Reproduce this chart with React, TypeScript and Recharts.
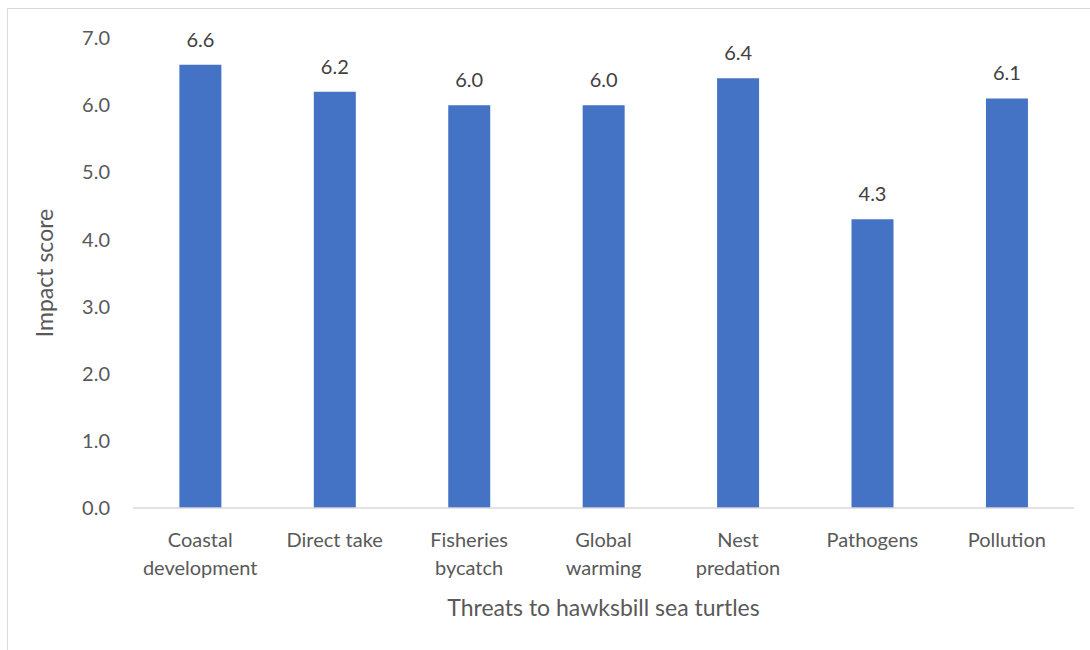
import { Bar, BarChart, LabelList, XAxis, YAxis } from "recharts";

const categories = [
  "Coastal\ndevelopment",
  "Direct take",
  "Fisheries\nbycatch",
  "Global\nwarming",
  "Nest\npredation",
  "Pathogens",
  "Pollution",
];
const impactScores = [6.6, 6.2, 6.0, 6.0, 6.4, 4.3, 6.1];
const yTicks = [0, 1, 2, 3, 4, 5, 6, 7];

const data = categories.map((name, i) => ({ name, score: impactScores[i] }));

const FONT = "Lato, 'Open Sans', sans-serif";
const fmt = (v: number) => Number(v).toFixed(1);

function CategoryTick(props: any) {
  const { x, y, payload } = props;
  const lines = String(payload.value).split("\n");
  return (
    <text x={x} y={y + 31} textAnchor="middle" fill="#595959" fontSize={20} fontFamily={FONT}>
      {lines.map((line, i) => (
        <tspan key={i} x={x} dy={i === 0 ? 0 : 28}>
          {line}
        </tspan>
      ))}
    </text>
  );
}

export default function App() {
  return (
    <div style={{ position: "absolute", left: 0, top: 0, width: 1090, height: 650, background: "#fff" }}>
      <div
        style={{
          position: "absolute",
          left: 7,
          top: 8,
          width: 1083,
          height: 642,
          borderTop: "1px solid #d9d9d9",
          borderLeft: "1px solid #d9d9d9",
          boxSizing: "border-box",
        }}
      />
      <BarChart
        width={1090}
        height={650}
        data={data}
        margin={{ top: 38, right: 16, bottom: 0, left: 20 }}
        barCategoryGap="34.5%"
        style={{ position: "absolute", left: 0, top: 0 }}
      >
        <XAxis
          dataKey="name"
          interval={0}
          tickLine={false}
          axisLine={{ stroke: "#d9d9d9", strokeWidth: 1.5 }}
          tick={<CategoryTick />}
          height={142}
          label={{
            value: "Threats to hawksbill sea turtles",
            position: "insideBottom",
            offset: 34,
            fill: "#595959",
            fontSize: 23,
            fontFamily: FONT,
          }}
        />
        <YAxis
          width={113}
          domain={[0, 7]}
          ticks={yTicks}
          tickFormatter={fmt}
          axisLine={false}
          tickLine={false}
          tickMargin={17}
          tick={{ fill: "#595959", fontSize: 20, fontFamily: FONT }}
          label={{
            value: "Impact score",
            angle: -90,
            position: "insideLeft",
            offset: 25,
            fill: "#595959",
            fontSize: 23,
            fontFamily: FONT,
            style: { textAnchor: "middle" },
          }}
        />
        <Bar dataKey="score" fill="#4472c4" isAnimationActive={false}>
          <LabelList
            dataKey="score"
            position="top"
            offset={18}
            formatter={fmt}
            fill="#404040"
            fontSize={20}
            fontFamily={FONT}
          />
        </Bar>
      </BarChart>
    </div>
  );
}
